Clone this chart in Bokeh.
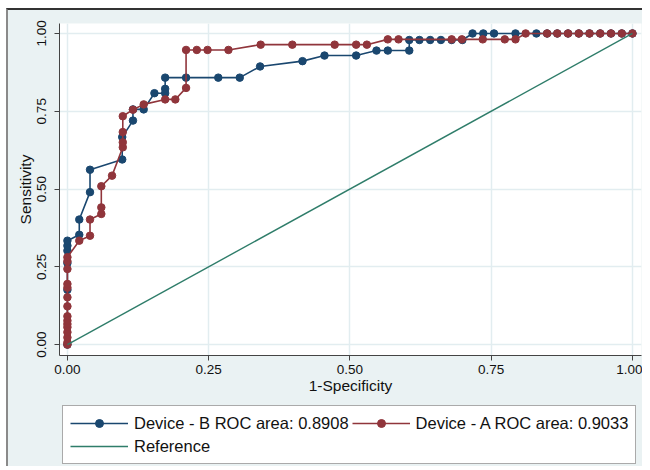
from bokeh.plotting import figure
from bokeh.layouts import column
from bokeh.models import Range1d, FixedTicker, PrintfTickFormatter, Legend, LegendItem
from bokeh.embed import file_html
from bokeh.resources import INLINE

# Device - B ROC curve (1-Specificity, Sensitivity)
fpr_b = [0, 0, 0, 0, 0, 0, 0.021, 0.021, 0.040, 0.040, 0.097, 0.097, 0.116, 0.116,
         0.135, 0.154, 0.173, 0.173, 0.173, 0.210, 0.267, 0.305, 0.341, 0.416, 0.455,
         0.511, 0.547, 0.567, 0.605, 0.605, 0.623, 0.642, 0.661, 0.680, 0.699, 0.717,
         0.736, 0.755, 0.793, 0.830, 0.849, 0.867, 0.886, 0.905, 0.924, 0.943, 0.962,
         0.981, 1.0]
tpr_b = [0, 0.176, 0.262, 0.302, 0.318, 0.334, 0.353, 0.402, 0.490, 0.562, 0.595, 0.667,
         0.720, 0.756, 0.756, 0.808, 0.808, 0.822, 0.858, 0.858, 0.858, 0.858, 0.894,
         0.911, 0.929, 0.929, 0.945, 0.945, 0.945, 0.979, 0.979, 0.979, 0.979, 0.979,
         0.979, 1.0, 1.0, 1.0, 1.0, 1.0, 1.0, 1.0, 1.0, 1.0, 1.0, 1.0, 1.0, 1.0, 1.0]

# Device - A ROC curve
fpr_a = [0, 0, 0, 0, 0, 0, 0, 0, 0, 0, 0, 0, 0, 0, 0, 0.021, 0.040, 0.040, 0.060, 0.060,
         0.060, 0.079, 0.098, 0.098, 0.098, 0.098, 0.116, 0.135, 0.173, 0.191, 0.210,
         0.210, 0.229, 0.248, 0.285, 0.342, 0.398, 0.473, 0.511, 0.530, 0.567, 0.586,
         0.680, 0.698, 0.735, 0.774, 0.793, 0.811, 0.849, 0.867, 0.886, 0.905, 0.924,
         0.943, 0.962, 0.981, 1.0]
tpr_a = [0, 0.007, 0.023, 0.040, 0.056, 0.066, 0.077, 0.091, 0.123, 0.152, 0.183, 0.195,
         0.243, 0.268, 0.281, 0.334, 0.350, 0.402, 0.420, 0.441, 0.509, 0.543, 0.634,
         0.650, 0.683, 0.734, 0.755, 0.772, 0.788, 0.788, 0.825, 0.947, 0.947, 0.947,
         0.947, 0.964, 0.964, 0.964, 0.964, 0.964, 0.981, 0.981, 0.981, 0.981, 0.981,
         0.981, 0.981, 1.0, 1.0, 1.0, 1.0, 1.0, 1.0, 1.0, 1.0, 1.0, 1.0]

ref_x = [0.0, 1.0]
ref_y = [0.0, 1.0]

ticks = [0.0, 0.25, 0.5, 0.75, 1.0]
label_b = "Device - B ROC area: 0.8908"
label_a = "Device - A ROC area: 0.9033"
label_ref = "Reference"

BLUE = "#1a476f"
RED = "#90353b"
GREEN = "#2f7d6a"
BG = "#eaf2f3"
FONT = "Liberation Sans"
W = 634

p = figure(width=W, height=388, output_backend="svg", toolbar_location=None,
           x_range=Range1d(-0.014, 1.016), y_range=Range1d(-0.035, 1.032),
           min_border_left=51, min_border_right=1, min_border_top=13, min_border_bottom=43)

p.background_fill_color = "white"
p.border_fill_color = BG
p.outline_line_color = None

for g in (p.xgrid, p.ygrid):
    g.ticker = FixedTicker(ticks=ticks)
    g.grid_line_color = "#e2edf0"
    g.grid_line_width = 1.5

for ax in (p.xaxis[0], p.yaxis[0]):
    ax.ticker = FixedTicker(ticks=ticks)
    ax.formatter = PrintfTickFormatter(format="%.2f")
    ax.major_tick_in = 0
    ax.major_tick_out = 5
    ax.minor_tick_line_color = None
    ax.axis_line_color = "#444444"
    ax.major_tick_line_color = "#444444"
    ax.major_label_text_font = FONT
    ax.major_label_text_font_size = "13.5px"
    ax.major_label_text_color = "#111111"
    ax.axis_label_text_font = FONT
    ax.axis_label_text_font_size = "15.5px"
    ax.axis_label_text_font_style = "normal"
    ax.axis_label_text_color = "#111111"

p.xaxis.axis_label = "1-Specificity"
p.xaxis.major_label_standoff = 4
p.xaxis.axis_label_standoff = 0
p.yaxis.axis_label = "Sensitivity"
p.yaxis.major_label_orientation = "vertical"
p.yaxis.major_label_standoff = 8
p.yaxis.axis_label_standoff = 1

p.line(fpr_b, tpr_b, line_color=BLUE, line_width=1.6)
p.scatter(fpr_b, tpr_b, size=7.5, fill_color=BLUE, line_color=BLUE)
p.line(fpr_a, tpr_a, line_color=RED, line_width=1.6)
p.scatter(fpr_a, tpr_a, size=7.5, fill_color=RED, line_color=RED)
p.line(ref_x, ref_y, line_color=GREEN, line_width=1.4)

# legend strip below the chart (its own proxy renderers are kept out of view)
q = figure(width=W, height=68, output_backend="svg", toolbar_location=None,
           x_range=Range1d(10, 11), y_range=Range1d(10, 11), min_border=0,
           x_axis_location=None, y_axis_location=None)
q.background_fill_color = BG
q.border_fill_color = BG
q.outline_line_color = None
q.xgrid.visible = False
q.ygrid.visible = False
kb_l = q.line(fpr_b, tpr_b, line_color=BLUE, line_width=1.6)
kb_s = q.scatter(fpr_b, tpr_b, size=7, fill_color=BLUE, line_color=BLUE)
ka_l = q.line(fpr_a, tpr_a, line_color=RED, line_width=1.6)
ka_s = q.scatter(fpr_a, tpr_a, size=7, fill_color=RED, line_color=RED)
kr_l = q.line(ref_x, ref_y, line_color=GREEN, line_width=1.4)

legend = Legend(items=[LegendItem(label=label_b, renderers=[kb_l, kb_s]),
                       LegendItem(label=label_a, renderers=[ka_l, ka_s]),
                       LegendItem(label=label_ref, renderers=[kr_l])],
                location=(3, 2), orientation="horizontal", ncols=2)
legend.margin = 0
legend.padding = 7
legend.spacing = 3
legend.glyph_width = 58
legend.glyph_height = 20
legend.label_height = 20
legend.label_standoff = 6
legend.label_text_font = FONT
legend.label_text_font_size = "16.5px"
legend.label_text_color = "#111111"
legend.border_line_color = "#555555"
legend.border_line_width = 1
legend.background_fill_color = "white"
legend.background_fill_alpha = 1.0
q.add_layout(legend, "center")

layout = column(p, q, spacing=0)
layout.styles = {"margin-left": "6px", "margin-top": "8px",
                 "border-top": "2px solid #333333", "border-left": "2px solid #8a8a8a",
                 "background-color": BG}

open("out.html", "w").write(file_html(layout, INLINE))
